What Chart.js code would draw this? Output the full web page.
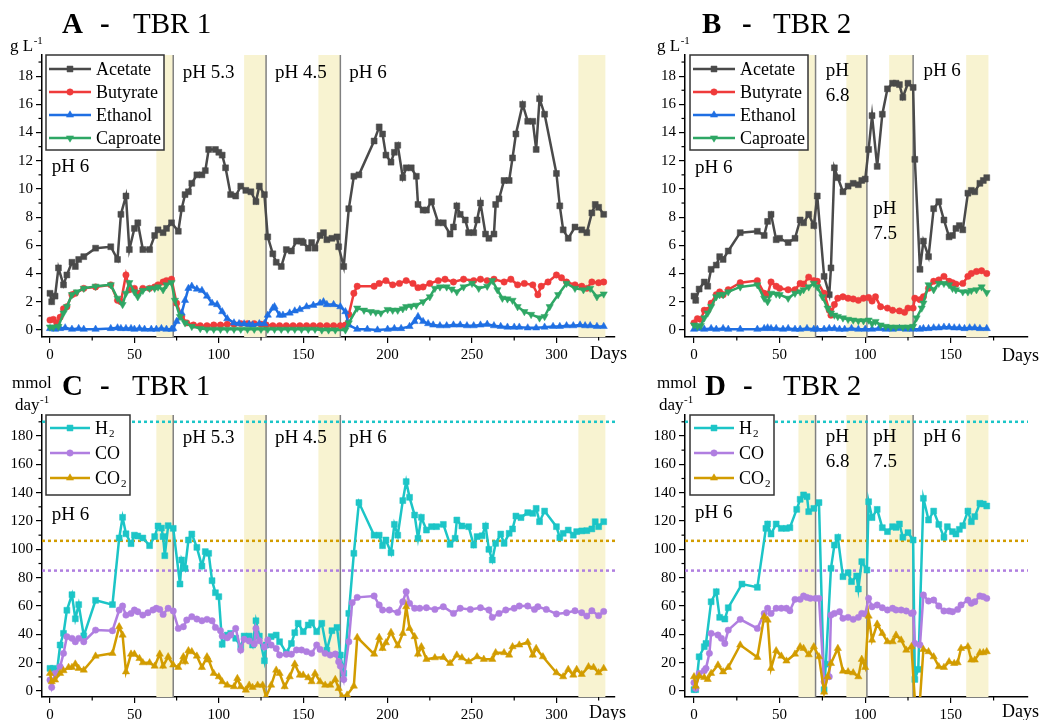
<!DOCTYPE html>
<html>
<head>
<meta charset="utf-8">
<script src="https://cdn.jsdelivr.net/npm/chart.js@4.4.1/dist/chart.umd.min.js"></script>
<style>
  html, body { margin: 0; padding: 0; background: #fff; }
  body { position: relative; width: 1040px; height: 720px; overflow: hidden; }
  canvas { position: absolute; display: block; }
</style>
</head>
<body>
<canvas id="chartA" style="left:0;top:0;width:640px;height:370px"></canvas>
<canvas id="chartB" style="left:640px;top:0;width:400px;height:370px"></canvas>
<canvas id="chartC" style="left:0;top:360px;width:640px;height:360px"></canvas>
<canvas id="chartD" style="left:640px;top:360px;width:400px;height:360px"></canvas>
<script>
// ---------- measured series: [day, value] ----------
// TBR 1, liquid products (g L-1)
const acetateTBR1 = [[0,2.6],[1,2.0],[3,2.4],[5,4.4],[8,3.2],[10,3.9],[13,4.8],[15,4.5],[17,5.0],[20,5.2],[27,5.8],[36,5.9],[40,5.0],[42,8.2],[45,9.5],[47,5.7],[50,7.2],[52,7.6],[55,5.7],[59,5.7],[62,6.7],[64,7.1],[67,6.9],[69,7.2],[72,7.6],[76,7.0],[78,8.6],[80,9.6],[82,9.8],[84,10.4],[87,11.0],[90,11.0],[92,11.3],[94,12.8],[98,12.8],[100,12.6],[102,12.4],[104,11.5],[107,9.6],[110,9.5],[113,10.2],[116,9.9],[119,9.8],[122,9.1],[124,10.2],[127,9.6],[129,6.6],[132,5.4],[134,4.8],[137,4.5],[140,5.7],[143,5.6],[146,6.3],[149,6.3],[150,6.2],[153,5.8],[155,6.2],[157,5.8],[160,6.7],[162,6.9],[164,6.4],[167,6.5],[170,6.6],[171,5.9],[174,4.5],[177,8.6],[180,10.9],[183,11.0],[192,13.4],[195,14.4],[197,13.9],[199,12.4],[202,11.9],[204,12.6],[206,13.1],[209,10.8],[211,11.5],[214,11.5],[217,10.9],[218,8.9],[221,8.5],[223,8.5],[226,9.1],[230,7.6],[233,7.6],[237,6.8],[239,7.3],[241,8.8],[243,8.2],[246,7.8],[248,6.9],[251,6.9],[253,7.8],[255,9.0],[258,6.8],[260,6.5],[263,6.8],[264,8.9],[266,9.3],[269,10.6],[272,10.6],[274,12.2],[276,13.9],[280,16.0],[283,14.8],[286,14.8],[288,12.8],[290,16.4],[293,15.3],[300,11.1],[302,8.8],[304,7.1],[307,6.5],[311,7.3],[315,7.1],[318,6.9],[321,8.3],[323,8.9],[325,8.7],[328,8.2]];
const butyrateTBR1 = [[0,0.7],[2,0.75],[4,0.5],[6,0.9],[8,1.5],[10,1.65],[13,2.5],[15,2.6],[20,2.95],[27,3.05],[36,3.2],[40,2.1],[42,2.0],[45,3.9],[47,2.85],[50,2.95],[52,2.6],[55,2.95],[59,2.95],[62,3.05],[64,3.2],[67,3.4],[69,3.5],[72,3.6],[75,1.9],[78,0.95],[81,0.5],[85,0.35],[89,0.3],[93,0.3],[97,0.35],[101,0.35],[105,0.4],[109,0.4],[113,0.45],[117,0.45],[121,0.45],[125,0.4],[128,0.35],[132,0.3],[136,0.3],[140,0.3],[144,0.3],[148,0.3],[152,0.3],[156,0.3],[160,0.3],[164,0.3],[168,0.3],[172,0.3],[175,0.35],[177,1.1],[180,2.6],[182,3.1],[192,3.1],[195,3.3],[199,3.5],[203,3.2],[207,3.3],[211,3.5],[215,3.3],[218,3.0],[221,3.05],[225,3.3],[230,3.5],[234,3.6],[239,3.4],[245,3.6],[251,3.5],[255,3.6],[259,3.5],[263,3.6],[269,3.4],[273,3.6],[277,3.2],[281,3.3],[286,3.2],[289,2.5],[291,3.1],[295,3.4],[300,3.9],[303,3.7],[306,3.4],[311,3.2],[315,3.1],[318,2.95],[321,3.4],[325,3.35],[328,3.4]];
const ethanolTBR1 = [[0,0.1],[3,0.05],[6,0.1],[9,0.15],[13,0.05],[17,0.1],[20,0.05],[27,0.05],[36,0.1],[40,0.15],[42,0.1],[45,0.1],[48,0.1],[50,0.05],[53,0.1],[56,0.05],[60,0.05],[63,0.05],[66,0.1],[69,0.05],[72,0.05],[73,0.1],[75,0.6],[78,1.2],[80,2.1],[82,2.95],[84,3.1],[87,2.9],[90,2.8],[93,2.4],[96,1.9],[99,1.8],[102,1.3],[105,0.8],[109,0.5],[112,0.45],[115,0.43],[118,0.4],[120,0.35],[124,0.45],[127,0.45],[129,1.05],[132,1.55],[133,1.65],[136,1.05],[138,1.05],[142,1.2],[145,1.35],[148,1.45],[152,1.65],[156,1.75],[160,1.9],[162,2.0],[164,1.8],[168,1.8],[172,1.65],[175,1.3],[177,0.35],[182,0.05],[188,0.05],[194,0],[200,0.05],[204,0.1],[208,0.1],[213,0.25],[216,0.6],[218,0.95],[221,0.6],[224,0.45],[227,0.35],[231,0.3],[235,0.3],[239,0.35],[243,0.35],[247,0.3],[251,0.3],[255,0.35],[259,0.4],[263,0.3],[267,0.25],[271,0.2],[275,0.2],[278,0.2],[283,0.15],[288,0.15],[293,0.2],[298,0.25],[302,0.25],[306,0.3],[310,0.3],[314,0.35],[317,0.3],[320,0.3],[324,0.25],[328,0.25]];
const caproateTBR1 = [[0,0.2],[2,0.2],[5,0.25],[8,1.2],[10,1.65],[13,2.5],[16,2.7],[20,2.95],[27,3.1],[36,3.2],[40,2.25],[43,1.8],[45,2.6],[47,3.35],[50,2.7],[52,2.35],[55,2.8],[59,2.95],[62,2.95],[64,3.05],[67,2.85],[69,3.2],[72,3.35],[74,2.1],[77,0.95],[80,0.5],[84,0.25],[89,0.1],[93,0.05],[97,0.05],[101,0.05],[105,0.05],[109,0.05],[113,0.05],[117,0.05],[121,0.05],[125,0.05],[129,0.05],[133,0.05],[137,0.05],[141,0.05],[145,0.05],[149,0.05],[153,0.05],[157,0.05],[161,0],[165,0],[169,0],[175,0],[177,0.5],[182,1.55],[186,1.4],[190,1.3],[193,1.25],[196,1.2],[200,1.45],[203,1.4],[206,1.4],[209,1.5],[211,1.65],[214,1.7],[217,1.75],[221,2.0],[225,2.35],[228,2.95],[231,3.05],[235,3.05],[238,2.9],[241,2.7],[245,3.05],[250,3.3],[254,2.95],[259,3.1],[262,3.5],[265,2.85],[268,2.25],[271,2.2],[274,2.1],[277,1.65],[281,1.3],[285,1.1],[290,0.85],[293,0.95],[296,1.65],[301,2.5],[306,3.3],[311,2.95],[316,2.85],[320,2.95],[324,2.35],[328,2.55]];

// TBR 2, liquid products (g L-1)
const acetateTBR2 = [[0,2.4],[1,2.1],[3,2.9],[6,3.4],[8,3.1],[10,4.3],[13,4.6],[15,5.2],[17,5.0],[20,5.6],[27,6.9],[37,7.0],[41,6.7],[43,7.7],[45,8.2],[48,6.4],[50,6.5],[55,6.2],[59,6.5],[62,7.8],[64,7.6],[67,8.2],[70,7.4],[72,9.5],[76,3.8],[79,2.5],[80,4.4],[82,11.5],[84,10.8],[87,9.8],[90,10.2],[93,10.4],[96,10.3],[98,10.6],[100,10.7],[102,12.8],[104,15.2],[107,11.6],[110,15.3],[113,17.1],[116,17.5],[118,17.5],[120,17.4],[122,16.5],[125,17.5],[128,17.2],[129,12.1],[132,4.3],[134,6.3],[137,5.2],[140,8.6],[143,9.1],[146,7.8],[149,6.6],[151,6.7],[153,7.2],[155,7.4],[157,7.1],[160,9.7],[162,9.9],[164,9.8],[167,10.4],[169,10.6],[171,10.8]];
const butyrateTBR2 = [[0,0.5],[2,0.8],[4,0.75],[6,1.4],[8,1.4],[10,1.9],[13,2.5],[15,2.7],[17,2.5],[20,2.85],[27,3.35],[37,3.5],[41,2.6],[43,2.5],[45,3.4],[48,3.1],[50,2.95],[55,2.85],[59,2.85],[62,3.3],[64,3.25],[67,3.75],[70,3.5],[72,3.45],[76,2.6],[79,1.4],[80,1.05],[82,1.8],[84,2.25],[87,2.35],[90,2.25],[93,2.2],[96,2.1],[99,2.25],[102,2.3],[104,2.05],[106,2.35],[109,1.65],[113,1.55],[116,1.4],[120,1.35],[123,1.25],[125,1.55],[128,1.55],[129,2.25],[132,2.15],[134,2.35],[137,2.95],[140,3.45],[143,3.55],[146,3.8],[149,3.45],[151,3.35],[153,3.25],[157,3.3],[160,3.8],[162,4.0],[165,4.15],[168,4.2],[171,4.0]];
const ethanolTBR2 = [[0,0.05],[3,0.1],[6,0.05],[10,0.1],[13,0.05],[17,0.1],[20,0.05],[27,0.05],[37,0.05],[41,0.1],[43,0.15],[45,0.1],[48,0.1],[52,0.05],[55,0.1],[59,0.05],[62,0.05],[66,0.1],[70,0.05],[72,0.05],[76,0.05],[79,0.1],[82,0.1],[85,0.05],[88,0.05],[92,0.1],[96,0.05],[100,0.05],[104,0.05],[108,0.1],[112,0.05],[116,0.05],[120,0.1],[124,0.05],[128,0.05],[132,0.05],[134,0.1],[137,0.1],[140,0.15],[143,0.15],[146,0.2],[149,0.2],[152,0.15],[155,0.15],[158,0.1],[161,0.15],[164,0.15],[167,0.1],[171,0.1]];
const caproateTBR2 = [[0,0.35],[2,0.25],[4,0.3],[6,0.85],[8,1.2],[10,1.65],[13,2.35],[15,2.5],[17,2.5],[20,2.7],[27,3.05],[37,3.2],[41,2.25],[43,2.0],[45,2.6],[48,2.55],[50,2.5],[55,2.25],[59,2.6],[62,2.7],[64,2.85],[67,3.05],[70,3.3],[72,3.05],[75,2.35],[78,1.55],[80,1.2],[82,1.05],[84,0.95],[87,0.85],[90,0.75],[93,0.7],[96,0.65],[99,0.65],[102,0.7],[104,0.45],[106,0.6],[109,0.35],[112,0.25],[115,0.2],[118,0.2],[122,0.2],[125,0.2],[128,0.25],[130,0.85],[133,1.55],[134,1.9],[137,3.2],[140,2.85],[143,3.3],[146,3.3],[149,3.2],[151,2.95],[153,2.85],[157,2.7],[160,2.7],[162,2.8],[165,2.85],[168,3.05],[171,2.65]];

// TBR 1, gas uptake / production (mmol day-1)
const h2TBR1 = [[0,16],[2,16],[4,12.5],[6,32.5],[8,40.7],[10,57],[13,68],[15,51],[17,61],[20,39],[27,64],[37,61],[41,108],[43,122.6],[45,111],[48,104],[50,110],[52,109.4],[55,108],[59,102.6],[62,109],[64,116.5],[66,115],[67,109],[68,95.5],[70,116.7],[73,114.8],[77,75.5],[78,92.5],[80,86.6],[82,106.6],[84,110.8],[87,101.4],[90,88.2],[92,98.4],[94,97.2],[96,77.9],[98,69.4],[100,66.6],[102,33],[105,39.5],[107,40.7],[110,37.2],[113,31.3],[115,38.8],[118,38.8],[120,32.5],[122,49.6],[124,38.8],[127,21.4],[128,32.5],[131,38.4],[134,39.5],[136,34.8],[140,27],[143,33.6],[145,41.2],[147,47.8],[150,41.9],[153,46.6],[155,48.2],[158,41.9],[161,47.8],[164,28.9],[167,42.6],[170,44.9],[172,25.4],[174,12.5],[177,54.8],[180,97.2],[183,133],[192,110],[195,110],[197,102.6],[199,106.6],[202,97.6],[204,117.6],[206,110],[209,134.4],[211,147.8],[213,136.7],[216,124.2],[218,107.8],[220,122.6],[223,113.6],[226,116],[229,116],[233,117.6],[237,103.5],[240,107.8],[241,120.7],[244,116.5],[248,116],[251,103],[253,109],[256,109.6],[258,116.5],[260,100],[262,92.5],[264,104.2],[267,110.8],[269,104.2],[272,111.3],[274,114.4],[276,123.5],[279,122.4],[283,125.9],[286,125.4],[288,128.9],[290,119.5],[293,127],[300,116],[302,108.2],[304,111.3],[307,113.6],[310,110],[312,112.5],[315,113],[318,113.2],[321,114.4],[323,119.5],[325,116],[328,119.5]];
const coTBR1 = [[0,7.8],[1,2.6],[3,12.5],[6,17.2],[8,26.6],[10,38.4],[13,37.2],[15,34.8],[17,37.2],[20,34.8],[27,43],[37,42.6],[41,57.2],[43,60],[45,53.6],[48,54.8],[50,57.2],[52,56],[55,53.6],[58,55.3],[61,57.2],[63,58.4],[65,57.6],[67,54.1],[70,58.4],[73,56.5],[76,44.2],[79,45.4],[81,50.1],[84,52.5],[87,50.8],[90,49.6],[93,50.6],[96,49.6],[98,44.9],[101,42.6],[102,38.8],[105,37.6],[107,39.5],[110,44.2],[113,28.9],[115,36.5],[118,35.3],[121,33.2],[122,44.2],[124,35.5],[127,31],[129,36],[131,32.5],[134,30],[136,25.4],[140,26],[143,26],[146,29],[149,29],[152,27.8],[155,26.6],[158,32.5],[160,29.4],[163,26.6],[166,25.4],[169,26.1],[171,20.7],[172,17.6],[174,8.2],[177,34.8],[179,62.4],[182,66.1],[192,67.1],[195,60.7],[197,57.2],[201,57.2],[206,55.5],[209,63],[211,70.1],[213,61.9],[216,58.4],[219,58.4],[223,58.8],[228,57.6],[233,59.5],[239,54.8],[243,58.4],[249,57.6],[255,58.8],[260,57.2],[262,52],[266,54.8],[270,57.2],[275,58.4],[278,60],[283,60],[287,57.6],[289,59.5],[294,57.6],[300,54.4],[306,55.3],[311,56.7],[315,55.3],[318,52.9],[321,56.7],[325,53.2],[328,56.2]];
const co2TBR1 = [[0,12.5],[1,6.6],[3,7.8],[6,12.5],[8,14.4],[11,16.7],[13,16.7],[15,19.1],[17,16],[20,14.8],[27,24.7],[37,26.6],[41,45.4],[43,39.5],[45,13.6],[48,26.1],[50,26.1],[53,23],[55,20],[59,20],[62,17.6],[65,26.1],[67,17.6],[70,24.2],[73,18.4],[76,16.7],[79,24.2],[80,20.7],[82,28.5],[84,27.8],[87,24.7],[90,16.7],[93,24.2],[94,21.9],[97,12.5],[100,10.1],[102,6.6],[105,4.2],[109,3.1],[111,8.9],[113,3.1],[116,0.7],[118,4.2],[120,2.6],[123,4.2],[126,4.2],[128,-4],[131,4.2],[134,14.8],[136,12.5],[139,3.1],[142,10.1],[145,19.1],[148,11.3],[150,11.3],[153,9.4],[155,6.6],[157,12.5],[160,6.6],[163,4.2],[166,4.2],[169,8.2],[171,1.9],[173,-4],[176,-2.8],[180,3.5],[182,37.9],[192,26.1],[195,37.9],[197,30.1],[199,34.1],[202,41.4],[206,32],[209,40.7],[211,59.5],[213,44.2],[216,38.4],[218,26.1],[220,31.3],[223,22.4],[228,23.5],[233,23.8],[237,19.5],[241,25.4],[244,23.5],[248,20.7],[253,24.2],[257,22.4],[262,22.4],[264,27.1],[269,27.1],[272,25.4],[274,31.3],[278,32.5],[283,34.4],[286,25.4],[288,30.1],[292,24.2],[300,12.9],[304,10.1],[307,15.3],[310,11.3],[312,15.3],[315,11.8],[319,17.2],[322,16.7],[325,12.9],[328,16]];

// TBR 2, gas uptake / production (mmol day-1)
const h2TBR2 = [[0,1],[1,1],[3,24.2],[6,31.3],[7,33.6],[10,63],[13,70.1],[15,52],[18,50.8],[20,58.8],[28,75.5],[37,73.2],[42,114.8],[43,117.9],[45,110.8],[48,117.9],[51,114.8],[54,114.8],[56,115.3],[60,128.2],[62,135.3],[64,138.4],[66,137.2],[67,126.6],[70,128.9],[73,133],[76,1],[77,19],[80,86.6],[82,103],[84,108.5],[87,80.7],[90,83.5],[92,77.2],[95,81.2],[96,72],[98,91.3],[101,85.4],[102,133.6],[104,122.4],[107,128.2],[110,115.3],[113,112.5],[116,116],[118,115.5],[120,117.9],[122,108.5],[125,111.8],[128,106.6],[129,8.2],[131,15.3],[134,136],[137,120.7],[140,127],[143,117.6],[146,108.5],[148,116],[151,112.5],[153,110.8],[155,114.1],[157,116.7],[160,127],[162,119.5],[164,123.1],[167,132.5],[169,132],[171,130.6]];
const coTBR2 = [[0,5.9],[1,1.9],[3,12.5],[6,14.4],[7,16],[9,26.6],[10,40.7],[14,39.5],[16,37.2],[18,33.6],[20,43],[27,50.6],[37,44.2],[41,54.8],[43,58.4],[45,54.8],[48,58.4],[51,58.4],[54,58.4],[56,56.7],[59,64.7],[62,64.7],[64,67.1],[66,66.1],[68,65.4],[71,65.4],[73,65.4],[76,6.6],[79,10.1],[80,53.6],[82,54.8],[85,56],[87,51.3],[90,52],[93,50.6],[96,52],[98,54.8],[100,54.4],[102,65.4],[104,59.5],[107,60.7],[110,58.8],[113,57.2],[116,58.4],[118,57.2],[121,57.2],[124,56.5],[127,54.8],[128,55.3],[129,33.6],[132,32.5],[134,67.8],[137,63.5],[140,64.2],[143,60],[146,56.5],[149,56.5],[151,56],[154,57.6],[156,60.7],[160,64.2],[162,61.9],[164,63],[167,67.1],[169,66.6],[171,65.4]];
const co2TBR2 = [[0,10.1],[1,3.5],[3,10.6],[6,9.6],[8,8.2],[10,12.5],[14,18.4],[17,13.6],[20,16.7],[27,32.5],[37,23.8],[41,52.5],[43,50.1],[45,16],[48,28.5],[51,24.7],[54,21.2],[59,26.1],[62,31.3],[64,30.1],[67,25.6],[70,31.3],[73,24.2],[76,-0.7],[78,10.1],[80,19.5],[84,30.1],[87,14.1],[90,13.6],[93,12.9],[96,10.1],[98,22.4],[100,16.7],[102,52.9],[104,36],[107,47.3],[110,40.7],[113,34.8],[116,34.8],[118,39.5],[121,36],[124,28.9],[127,31.3],[129,-6],[132,-6],[134,29.4],[137,27.8],[140,24.2],[143,17.2],[146,16.7],[149,20.7],[152,19.5],[154,20],[156,30.1],[160,31.3],[162,21.9],[164,21.9],[167,27.1],[169,27.1],[171,27.8]];

// gas supply levels (mmol day-1), shown as dotted references
const supplyH2 = 190;
const supplyCO2 = 106;
const supplyCO = 85;

// sampling / pH-shift periods (days)
const bandsTBR1 = [[63, 73], [115, 128], [159, 172], [313, 329]];
const shiftsTBR1 = [73, 128, 172];
const bandsTBR2 = [[61, 71], [89, 101], [114, 128], [159, 172]];
const shiftsTBR2 = [71, 101, 128];

// axis ticks (labelled majors, unlabelled minors)
const yTicksConc = [0,1,2,3,4,5,6,7,8,9,10,11,12,13,14,15,16,17,18,19];
const yLabelsConc = [0,2,4,6,8,10,12,14,16,18];
const yTicksGas = [0,10,20,30,40,50,60,70,80,90,100,110,120,130,140,150,160,170,180,190];
const yLabelsGas = [0,20,40,60,80,100,120,140,160,180];
const xTicksTBR1 = [0,25,50,75,100,125,150,175,200,225,250,275,300,325];
const xLabelsTBR1 = [0,50,100,150,200,250,300];
const xTicksTBR2 = [0,25,50,75,100,125,150,175];
const xLabelsTBR2 = [0,50,100,150];

// ---------- styling ----------
const FONT = "'Liberation Serif', 'Times New Roman', serif";
const COL = {
  acetate: '#4a4a4a', butyrate: '#ef3b3b', ethanol: '#1f6fe3', caproate: '#2ea765',
  h2: '#1cc5c7', co: '#b07ee0', co2: '#d29c00',
  band: '#f8f3d1', shift: '#808080'
};
const MAJOR_TICK = 6;
const MINOR_TICK = 3.5;

function series(label, pts, color, pointStyle, rotation, order) {
  return {
    label,
    data: pts.map(([x, y]) => ({ x, y })),
    borderColor: color,
    backgroundColor: color,
    pointBackgroundColor: color,
    pointBorderColor: color,
    borderWidth: 2.5,
    pointStyle,
    pointRotation: rotation || 0,
    pointRadius: pointStyle === 'circle' ? 3.2 : 4.2,
    pointBorderWidth: 0.5,
    tension: 0,
    order,
    inLegend: true
  };
}

function supplyLine(level, color, xMin, xMax) {
  return {
    label: 'supply',
    data: [{ x: xMin, y: level }, { x: xMax, y: level }],
    borderColor: color,
    borderWidth: 2.5,
    borderDash: [3, 3],
    pointRadius: 0,
    order: 20,
    inLegend: false
  };
}

function drawRich(ctx, text, x, y, size) {
  // draws text where "₂" is rendered as a subscript 2
  let cx = x;
  text.split(/(₂)/).forEach(p => {
    if (!p) return;
    if (p === '₂') {
      ctx.font = `${Math.round(size * 0.62)}px ${FONT}`;
      ctx.fillText('2', cx + 1, y + size * 0.3);
      cx += ctx.measureText('2').width + 1;
    } else {
      ctx.font = `${size}px ${FONT}`;
      ctx.fillText(p, cx, y);
      cx += ctx.measureText(p).width;
    }
  });
}

// panel decorations: shaded periods, pH-shift lines, minor ticks, notes, title, unit, legend
const deco = {
  id: 'deco',
  beforeDatasetsDraw(chart, args, o) {
    const { ctx, chartArea: a, scales: { x, y } } = chart;
    ctx.save();
    ctx.fillStyle = COL.band;
    o.bands.forEach(([s, e]) => {
      const x0 = x.getPixelForValue(s), x1 = x.getPixelForValue(e);
      ctx.fillRect(x0, a.top, x1 - x0, a.bottom - a.top);
    });
    ctx.strokeStyle = COL.shift;
    ctx.lineWidth = 1.5;
    o.shifts.forEach(d => {
      const px = x.getPixelForValue(d);
      ctx.beginPath();
      ctx.moveTo(px, a.top);
      ctx.lineTo(px, a.bottom);
      ctx.stroke();
    });
    // short minor tick marks on both axes
    ctx.strokeStyle = '#000';
    ctx.lineWidth = 1.2;
    x.ticks.forEach(t => {
      if (o.xMajor.includes(t.value)) return;
      const px = x.getPixelForValue(t.value);
      ctx.beginPath(); ctx.moveTo(px, a.bottom); ctx.lineTo(px, a.bottom + MINOR_TICK); ctx.stroke();
    });
    y.ticks.forEach(t => {
      if (o.yMajor.includes(t.value)) return;
      const py = y.getPixelForValue(t.value);
      ctx.beginPath(); ctx.moveTo(a.left, py); ctx.lineTo(a.left - MINOR_TICK, py); ctx.stroke();
    });
    ctx.restore();
  },
  afterDraw(chart, args, o) {
    const { ctx, chartArea: a, scales: { x, y } } = chart;
    ctx.save();
    ctx.fillStyle = '#000';
    ctx.textAlign = 'left';
    ctx.textBaseline = 'alphabetic';

    // pH notes
    ctx.font = `19px ${FONT}`;
    o.notes.forEach(n => {
      const px = x.getPixelForValue(n.x), py = y.getPixelForValue(n.y);
      n.lines.forEach((t, i) => ctx.fillText(t, px, py + i * 25));
    });

    // panel title
    const t = o.title;
    ctx.font = `bold 29px ${FONT}`;
    ctx.fillText(t.letter, a.left + t.letterX, t.y);
    ctx.fillText('-', a.left + t.dashX, t.y);
    ctx.font = `29px ${FONT}`;
    ctx.fillText(t.name, a.left + t.nameX, t.y);

    // unit label with superscript
    o.unit.forEach(u => {
      ctx.font = `17px ${FONT}`;
      ctx.fillText(u.text, u.x, u.y);
      if (u.sup) {
        const w = ctx.measureText(u.text).width;
        ctx.font = `11px ${FONT}`;
        ctx.fillText(u.sup, u.x + w + 0.5, u.y - 7);
      }
    });

    // axis title at the end of the x axis
    ctx.font = `18px ${FONT}`;
    ctx.fillText('Days', a.right + o.days.dx, a.bottom + o.days.dy);

    // legend box
    const L = o.legend;
    const bx = a.left + L.dx, by = a.top;
    ctx.fillStyle = '#fff';
    ctx.fillRect(bx, by, L.w, L.h);
    ctx.strokeStyle = '#333';
    ctx.lineWidth = 1.5;
    ctx.strokeRect(bx, by, L.w, L.h);
    chart.data.datasets.filter(d => d.inLegend).forEach((d, i) => {
      const ry = by + L.first + i * L.step;
      ctx.strokeStyle = d.borderColor;
      ctx.fillStyle = d.borderColor;
      ctx.lineWidth = 2.5;
      ctx.beginPath();
      ctx.moveTo(bx + L.lineFrom, ry);
      ctx.lineTo(bx + L.lineTo, ry);
      ctx.stroke();
      ctx.lineWidth = 0.5;
      Chart.helpers.drawPoint(ctx, {
        pointStyle: d.pointStyle, radius: d.pointRadius, rotation: d.pointRotation, borderWidth: 0.5
      }, bx + (L.lineFrom + L.lineTo) / 2, ry);
      ctx.fillStyle = '#000';
      ctx.textBaseline = 'middle';
      drawRich(ctx, d.label, bx + L.textAt, ry + 1, 18);
      ctx.textBaseline = 'alphabetic';
    });
    ctx.restore();
  }
};

function makeOptions(c) {
  const tickFont = { family: FONT, size: 15 };
  c.deco.xMajor = c.xLabels;
  c.deco.yMajor = c.yLabels;
  return {
    responsive: false,
    animation: false,
    events: [],
    layout: { padding: { top: 55, right: c.padRight, left: 0, bottom: 0 } },
    plugins: { legend: { display: false }, tooltip: { enabled: false }, deco: c.deco },
    scales: {
      x: {
        type: 'linear', min: c.xMin, max: c.xMax,
        afterFit: s => { s.height = c.xAxisH; },
        afterBuildTicks: s => { s.ticks = c.xTicks.map(v => ({ value: v })); },
        ticks: {
          autoSkip: false, maxRotation: 0, minRotation: 0, padding: 3, color: '#000', font: tickFont,
          callback: v => c.xLabels.includes(v) ? String(v) : ''
        },
        grid: {
          drawOnChartArea: false, drawTicks: true, tickLength: MAJOR_TICK, color: '#000', lineWidth: 1.2,
          tickColor: ctx => c.xLabels.includes(ctx.tick && ctx.tick.value) ? '#000' : 'rgba(0,0,0,0)'
        },
        border: { display: true, color: '#000', width: 1.5 }
      },
      y: {
        type: 'linear', min: c.yMin, max: c.yMax,
        afterFit: s => { s.width = c.yAxisW; },
        afterBuildTicks: s => { s.ticks = c.yTicks.map(v => ({ value: v })); },
        ticks: {
          autoSkip: false, padding: 3, color: '#000', font: tickFont,
          callback: v => c.yLabels.includes(v) ? String(v) : ''
        },
        grid: {
          drawOnChartArea: false, drawTicks: true, tickLength: MAJOR_TICK, color: '#000', lineWidth: 1.2,
          tickColor: ctx => c.yLabels.includes(ctx.tick && ctx.tick.value) ? '#000' : 'rgba(0,0,0,0)'
        },
        border: { display: true, color: '#000', width: 1.5 }
      }
    }
  };
}

function panel(id, w, h, datasets, cfg) {
  const cv = document.getElementById(id);
  cv.width = w;
  cv.height = h;
  return new Chart(cv, { type: 'line', data: { datasets }, options: makeOptions(cfg), plugins: [deco] });
}

const liquidLegend = { dx: 4, w: 118, h: 95, first: 14, step: 23, lineFrom: 3, lineTo: 45, textAt: 50 };
const gasLegend = { dx: 4, w: 84, h: 80, first: 13, step: 25, lineFrom: 4, lineTo: 44, textAt: 49 };

// A - TBR 1 liquid products
panel('chartA', 640, 370, [
  series('Acetate', acetateTBR1, COL.acetate, 'rect', 0, 4),
  series('Butyrate', butyrateTBR1, COL.butyrate, 'circle', 0, 3),
  series('Ethanol', ethanolTBR1, COL.ethanol, 'triangle', 0, 2),
  series('Caproate', caproateTBR1, COL.caproate, 'triangle', 180, 1)
], {
  xMin: -4.74, xMax: 334.7, yMin: -0.5, yMax: 19.5, padRight: 25, xAxisH: 33, yAxisW: 42,
  xTicks: xTicksTBR1, xLabels: xLabelsTBR1, yTicks: yTicksConc, yLabels: yLabelsConc,
  deco: {
    bands: bandsTBR1, shifts: shiftsTBR1,
    notes: [
      { x: 1, y: 11.2, lines: ['pH 6'] },
      { x: 78.6, y: 17.9, lines: ['pH 5.3'] },
      { x: 133.3, y: 17.9, lines: ['pH 4.5'] },
      { x: 177.3, y: 17.9, lines: ['pH 6'] }
    ],
    title: { letter: 'A', name: 'TBR 1', letterX: 20, dashX: 58, nameX: 91, y: 33 },
    unit: [{ text: 'g L', sup: '-1', x: 10, y: 51 }],
    days: { dx: -25, dy: 22 },
    legend: liquidLegend
  }
});

// B - TBR 2 liquid products
panel('chartB', 400, 370, [
  series('Acetate', acetateTBR2, COL.acetate, 'rect', 0, 4),
  series('Butyrate', butyrateTBR2, COL.butyrate, 'circle', 0, 3),
  series('Ethanol', ethanolTBR2, COL.ethanol, 'triangle', 0, 2),
  series('Caproate', caproateTBR2, COL.caproate, 'triangle', 180, 1)
], {
  xMin: -5.26, xMax: 195.1, yMin: -0.5, yMax: 19.5, padRight: 12, xAxisH: 33, yAxisW: 45,
  xTicks: xTicksTBR2, xLabels: xLabelsTBR2, yTicks: yTicksConc, yLabels: yLabelsConc,
  deco: {
    bands: bandsTBR2, shifts: shiftsTBR2,
    notes: [
      { x: 0.6, y: 11.1, lines: ['pH 6'] },
      { x: 77, y: 18.0, lines: ['pH', '6.8'] },
      { x: 104.7, y: 8.2, lines: ['pH', '7.5'] },
      { x: 134, y: 18.0, lines: ['pH 6'] }
    ],
    title: { letter: 'B', name: 'TBR 2', letterX: 17, dashX: 57, nameX: 88, y: 33 },
    unit: [{ text: 'g L', sup: '-1', x: 17, y: 51 }],
    days: { dx: -26, dy: 24 },
    legend: Object.assign({}, liquidLegend, { dx: 5 })
  }
});

// C - TBR 1 gases
panel('chartC', 640, 360, [
  series('H₂', h2TBR1, COL.h2, 'rect', 0, 3),
  series('CO', coTBR1, COL.co, 'circle', 0, 2),
  series('CO₂', co2TBR1, COL.co2, 'triangle', 0, 1),
  supplyLine(supplyH2, COL.h2, -4.74, 334.7),
  supplyLine(supplyCO2, COL.co2, -4.74, 334.7),
  supplyLine(supplyCO, COL.co, -4.74, 334.7)
], {
  xMin: -4.74, xMax: 334.7, yMin: -4.2, yMax: 194.8, padRight: 25, xAxisH: 23, yAxisW: 42,
  xTicks: xTicksTBR1, xLabels: xLabelsTBR1, yTicks: yTicksGas, yLabels: yLabelsGas,
  deco: {
    bands: bandsTBR1, shifts: shiftsTBR1,
    notes: [
      { x: 1, y: 120.7, lines: ['pH 6'] },
      { x: 78.6, y: 175.2, lines: ['pH 5.3'] },
      { x: 133.3, y: 175.2, lines: ['pH 4.5'] },
      { x: 177.3, y: 175.2, lines: ['pH 6'] }
    ],
    title: { letter: 'C', name: 'TBR 1', letterX: 20, dashX: 58, nameX: 90, y: 35 },
    unit: [{ text: 'mmol', x: 12, y: 28 }, { text: 'day', sup: '-1', x: 15, y: 50 }],
    days: { dx: -26, dy: 21 },
    legend: gasLegend
  }
});

// D - TBR 2 gases
panel('chartD', 400, 360, [
  series('H₂', h2TBR2, COL.h2, 'rect', 0, 3),
  series('CO', coTBR2, COL.co, 'circle', 0, 2),
  series('CO₂', co2TBR2, COL.co2, 'triangle', 0, 1),
  supplyLine(supplyH2, COL.h2, -5.26, 195.1),
  supplyLine(supplyCO2, COL.co2, -5.26, 195.1),
  supplyLine(supplyCO, COL.co, -5.26, 195.1)
], {
  xMin: -5.26, xMax: 195.1, yMin: -4.2, yMax: 194.8, padRight: 12, xAxisH: 23, yAxisW: 45,
  xTicks: xTicksTBR2, xLabels: xLabelsTBR2, yTicks: yTicksGas, yLabels: yLabelsGas,
  deco: {
    bands: bandsTBR2, shifts: shiftsTBR2,
    notes: [
      { x: 0.6, y: 122.3, lines: ['pH 6'] },
      { x: 77, y: 175.4, lines: ['pH', '6.8'] },
      { x: 104.7, y: 175.4, lines: ['pH', '7.5'] },
      { x: 134, y: 175.4, lines: ['pH 6'] }
    ],
    title: { letter: 'D', name: 'TBR 2', letterX: 20, dashX: 58, nameX: 98, y: 35 },
    unit: [{ text: 'mmol', x: 17, y: 28 }, { text: 'day', sup: '-1', x: 19, y: 50 }],
    days: { dx: -26, dy: 20 },
    legend: Object.assign({}, gasLegend, { dx: 5 })
  }
});
</script>
</body>
</html>
